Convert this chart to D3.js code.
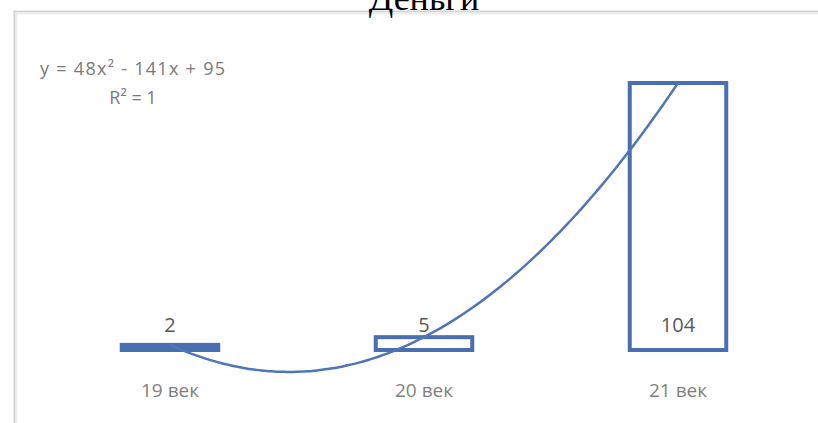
<!DOCTYPE html>
<html><head><meta charset="utf-8">
<script src="https://cdn.jsdelivr.net/npm/d3@7"></script>
<style>body{margin:0;background:#fff}svg{display:block}</style>
</head><body>
<script>
const title = "Деньги";
const categories = ["19 век", "20 век", "21 век"];
const values = [2, 5, 104];
const trendCoeffs = [48, -141, 95]; // y = a x^2 + b x + c
const equationLines = ["y = 48x² - 141x + 95", "R² = 1"];

const W = 818, H = 423;
const svg = d3.select("body").append("svg").attr("width", W).attr("height", H);

// frame
svg.append("rect").attr("x", 14.5).attr("y", 11.5).attr("width", W + 20).attr("height", H + 20)
  .attr("fill", "#fff").attr("stroke", "#d4d4d4").attr("stroke-width", 2);
svg.append("line").attr("x1", 16).attr("x2", W).attr("y1", 13.5).attr("y2", 13.5).attr("stroke", "#eeeeee").attr("stroke-width", 2);
svg.append("line").attr("x1", 16.5).attr("x2", 16.5).attr("y1", 13).attr("y2", H).attr("stroke", "#eeeeee").attr("stroke-width", 1.5);

const x = d3.scaleBand().domain(categories).range([43, 805]).paddingInner(0.62).paddingOuter(0.31);
const y = d3.scaleLinear().domain([0, 104]).range([350, 83]);
const color = "#4a6fb1";
const textFont = "Open Sans, sans-serif";

// trendline
const xi = d3.scaleLinear().domain([1, categories.length]).range([x(categories[0]) + x.bandwidth() / 2, x(categories[categories.length - 1]) + x.bandwidth() / 2]);
const f = t => trendCoeffs[0] * t * t + trendCoeffs[1] * t + trendCoeffs[2];
const pts = d3.range(1, 3.0001, 0.02).map(t => [xi(t), y(f(t))]);

// bars
svg.append("g").selectAll("rect").data(values).join("rect")
  .attr("x", (d, i) => x(categories[i]))
  .attr("y", d => y(d))
  .attr("width", x.bandwidth())
  .attr("height", d => y(0) - y(d))
  .attr("fill", d => (y(0) - y(d)) < 8 ? color : "#fff")
  .attr("stroke", color).attr("stroke-width", 4);

svg.append("path").attr("d", d3.line().curve(d3.curveBasis)(pts))
  .attr("fill", "none").attr("stroke", "#4f74b7").attr("stroke-width", 2.5);

// value labels
svg.append("g").selectAll("text").data(values).join("text")
  .attr("x", (d, i) => x(categories[i]) + x.bandwidth() / 2)
  .attr("y", 332)
  .attr("text-anchor", "middle")
  .attr("font-family", textFont).attr("font-size", 20)
  .attr("fill", "#595959")
  .text(d => d);

// category labels
const xAxis = d3.axisBottom(x).tickSize(0).tickPadding(0);
const ax = svg.append("g").attr("transform", "translate(0,397)").call(xAxis);
ax.select(".domain").remove();
ax.selectAll("text").attr("font-family", textFont).attr("font-size", 19)
  .attr("fill", "#7f7f7f").attr("dy", 0).attr("y", 0);

// equation
svg.append("text").attr("x", 40).attr("y", 75).attr("font-family", textFont)
  .attr("font-size", 18).attr("fill", "#7a7a7a").attr("textLength", 185).text(equationLines[0]);
svg.append("text").attr("x", 133).attr("y", 104).attr("text-anchor", "middle").attr("font-family", textFont)
  .attr("font-size", 18).attr("fill", "#7a7a7a").text(equationLines[1]);

// title
svg.append("text").attr("x", 424).attr("y", 10).attr("text-anchor", "middle")
  .attr("font-family", "Liberation Serif, Times New Roman, serif").attr("font-size", 36)
  .attr("fill", "#000").text(title);
</script>
</body></html>
